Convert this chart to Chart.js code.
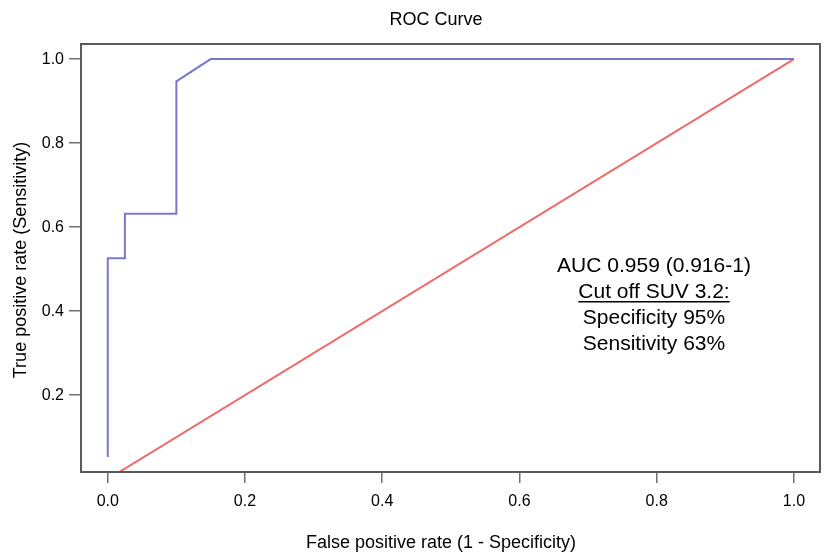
<!DOCTYPE html>
<html>
<head>
<meta charset="utf-8">
<script src="https://cdn.jsdelivr.net/npm/chart.js@4/dist/chart.umd.min.js"></script>
<style>
  html, body { margin: 0; padding: 0; background: #fff; }
  #wrap { width: 824px; height: 553px; }
</style>
</head>
<body>
<div id="wrap"><canvas id="chart" width="824" height="553"></canvas></div>
<script>
// ================= DATA =================
const fpr = [0, 0, 0.025, 0.025, 0.1, 0.1, 0.15, 1.0];
const tpr = [0.053, 0.526, 0.526, 0.632, 0.632, 0.947, 1.0, 1.0];
const refX = [0, 1];
const refY = [0, 1];
const xTicks = [0, 0.2, 0.4, 0.6, 0.8, 1.0];
const yTicks = [0.2, 0.4, 0.6, 0.8, 1.0];
const noteLines = ["AUC 0.959 (0.916-1)", "Cut off SUV 3.2:", "Specificity 95%", "Sensitivity 63%"];

const FONT = "'Liberation Sans', Arial, Helvetica, sans-serif";

// ================= TEXT + BOX =================
const extras = {
  id: "extras",
  afterDraw(chart) {
    const ctx = chart.ctx;
    const a = chart.chartArea;
    ctx.save();

    // box
    ctx.strokeStyle = "#5a5a5a";
    ctx.lineWidth = 2;
    ctx.strokeRect(a.left, a.top, a.right - a.left, a.bottom - a.top);

    ctx.fillStyle = "#000";
    ctx.textAlign = "center";
    ctx.textBaseline = "alphabetic";

    // title
    ctx.font = "18px " + FONT;
    ctx.fillText("ROC Curve", 436, 25);

    // x title
    ctx.fillText("False positive rate (1 - Specificity)", 441, 548);

    // y title
    ctx.save();
    ctx.translate(26, 260);
    ctx.rotate(-Math.PI / 2);
    ctx.fillText("True positive rate (Sensitivity)", 0, 0);
    ctx.restore();

    // note
    ctx.font = "21px " + FONT;
    const cx = 654, y0 = 272, step = 26;
    noteLines.forEach((t, i) => {
      ctx.fillText(t, cx, y0 + i * step);
      if (i === 1) {
        const w = ctx.measureText(t).width;
        ctx.fillRect(cx - w / 2, y0 + i * step + 3, w, 1.5);
      }
    });

    ctx.restore();
  }
};

// ================= CHART =================
const chart = new Chart(document.getElementById("chart"), {
  type: "scatter",
  data: {
    datasets: [
      {
        label: "ROC",
        data: fpr.map((x, i) => ({ x: x, y: tpr[i] })),
        showLine: true,
        borderColor: "#7878cf",
        borderWidth: 2,
        pointRadius: 0,
        tension: 0
      },
      {
        label: "Chance",
        data: refX.map((x, i) => ({ x: x, y: refY[i] })),
        showLine: true,
        borderColor: "#ef6b6b",
        borderWidth: 2,
        pointRadius: 0,
        tension: 0
      }
    ]
  },
  options: {
    responsive: false,
    animation: false,
    layout: { padding: { top: 44, right: 4, left: 0, bottom: 0 } },
    plugins: {
      legend: { display: false },
      tooltip: { enabled: false }
    },
    scales: {
      x: {
        type: "linear",
        min: -0.039,
        max: 1.038,
        afterBuildTicks: s => { s.ticks = xTicks.map(v => ({ value: v })); },
        afterFit: s => { s.height = 81; },
        ticks: {
          font: { family: FONT, size: 16 },
          color: "#000",
          padding: 9,
          maxRotation: 0,
          callback: v => v.toFixed(1)
        },
        grid: {
          drawOnChartArea: false,
          color: "#707070",
          lineWidth: 1.5,
          tickLength: 11
        },
        border: { display: false }
      },
      y: {
        type: "linear",
        min: 0.017,
        max: 1.036,
        afterBuildTicks: s => { s.ticks = yTicks.map(v => ({ value: v })); },
        afterFit: s => { s.width = 81; },
        ticks: {
          font: { family: FONT, size: 16 },
          color: "#000",
          padding: 5,
          callback: v => v.toFixed(1)
        },
        grid: {
          drawOnChartArea: false,
          color: "#707070",
          lineWidth: 1.5,
          tickLength: 12
        },
        border: { display: false }
      }
    }
  },
  plugins: [extras]
});
</script>
</body>
</html>
